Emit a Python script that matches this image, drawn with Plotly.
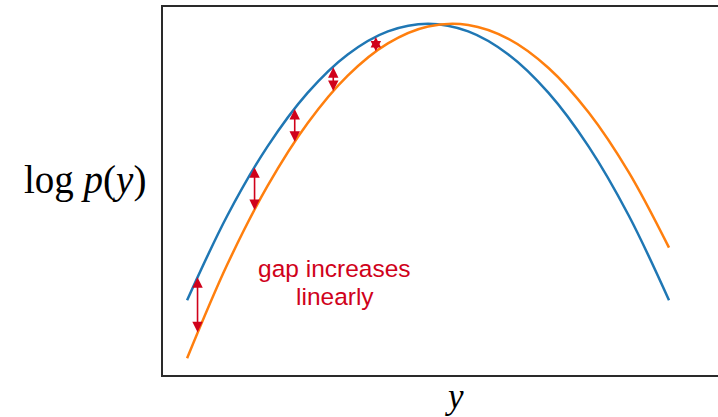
import plotly.graph_objects as go

# Curve samples
x_vals = [-3.0, -2.5, -2.0, -1.5, -1.0, -0.5, 0.0, 0.5, 1.0, 1.5, 2.0, 2.5, 3.0]
blue_logp = [-4.5, -3.125, -2.0, -1.125, -0.5, -0.125, 0.0, -0.125, -0.5, -1.125, -2.0, -3.125, -4.5]
orange_logp = [-5.445, -3.92, -2.645, -1.62, -0.845, -0.32, -0.045, -0.02, -0.245, -0.72, -1.445, -2.42, -3.645]

# Gap arrows (x position, top on blue curve, bottom on orange curve)
arrow_x = [-2.87, -2.16, -1.66, -1.18, -0.65]
arrow_top = [-4.12, -2.33, -1.38, -0.70, -0.21]
arrow_bottom = [-5.02, -3.03, -1.92, -1.095, -0.45]

note_lines = ["gap increases", "linearly"]

RED = "#d0021b"

layout_w, layout_h = 718, 417
L, R, T, B = 163, 0, 7, 42
pw = layout_w - L - R
ph = layout_h - T - B


def px_to_paper(px, py):
    return (px - L) / pw, (layout_h - B - py) / ph


fig = go.Figure()
fig.add_trace(go.Scatter(x=x_vals, y=blue_logp, mode="lines",
                         line=dict(color="#1f77b4", width=2.5, shape="spline", smoothing=1),
                         showlegend=False, hoverinfo="skip"))
fig.add_trace(go.Scatter(x=x_vals, y=orange_logp, mode="lines",
                         line=dict(color="#ff7f0e", width=2.5, shape="spline", smoothing=1),
                         showlegend=False, hoverinfo="skip"))

for xa, yt, yb in zip(arrow_x, arrow_top, arrow_bottom):
    fig.add_annotation(x=xa, y=yb, ax=xa, ay=yt, xref="x", yref="y", axref="x", ayref="y",
                       text="", showarrow=True, arrowhead=2, arrowsize=1.3, arrowwidth=1.6,
                       arrowcolor=RED, arrowside="end+start", standoff=0, startstandoff=0,
                       borderpad=0, font=dict(size=1))

for txt, (cx, cy) in zip(note_lines, [(334.5, 268), (335, 296)]):
    px, py = px_to_paper(cx, cy)
    fig.add_annotation(x=px, y=py, xref="paper", yref="paper", text=txt, showarrow=False,
                       xanchor="center", yanchor="middle", borderpad=0,
                       font=dict(family="Liberation Sans, Arial", size=24.5, color=RED))

# Axis labels
px, py = px_to_paper(85, 180)
fig.add_annotation(x=px, y=py, xref="paper", yref="paper", text="log <i>p</i>(<i>y</i>)",
                   showarrow=False, xanchor="center", yanchor="middle",
                   font=dict(family="Liberation Serif, serif", size=39, color="black"))
px, py = px_to_paper(454, 396)
fig.add_annotation(x=px, y=py, xref="paper", yref="paper", text="<i>y</i>",
                   showarrow=False, xanchor="center", yanchor="middle", borderpad=0,
                   font=dict(family="Liberation Serif, serif", size=35, color="black"))

fig.update_layout(
    width=layout_w, height=layout_h,
    margin=dict(l=L, r=R, t=T, b=B, pad=0),
    plot_bgcolor="white", paper_bgcolor="white",
    xaxis=dict(range=[-3.3, 3.61], showgrid=False, zeroline=False, showticklabels=False,
               ticks="", showline=True, linecolor="#2a2a2a", linewidth=1.5, mirror=True),
    yaxis=dict(range=[-5.717, 0.272], showgrid=False, zeroline=False, showticklabels=False,
               ticks="", showline=True, linecolor="#2a2a2a", linewidth=1.5, mirror=False),
)

fig.write_html("out.html", config={"displayModeBar": False},
               post_script="document.body.style.margin='0px';document.body.style.overflow='hidden';")
